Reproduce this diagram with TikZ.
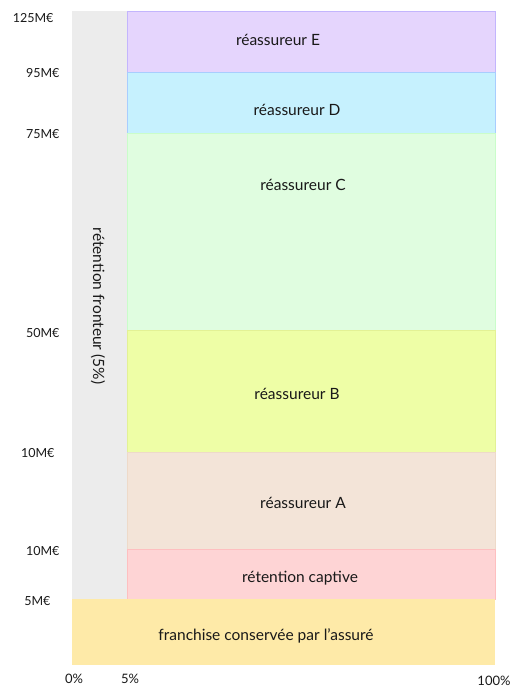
\documentclass[tikz,border=0pt]{standalone}
\usepackage{fontspec}
\setmainfont{Lato}
\begin{document}
\begin{tikzpicture}[x=1pt,y=-1pt,
  layer/.style={line width=0.5pt},
  lab/.style={font=\fontsize{15.5}{18}\selectfont, text=black!90},
  ylab/.style={font=\fontsize{12.5}{15}\selectfont, anchor=east, text=black!90},
  xlab/.style={font=\fontsize{13}{15}\selectfont, text=black!90}]
\useasboundingbox (0,0) rectangle (512,688);
\definecolor{cE}{HTML}{E5D5FD}
\definecolor{cD}{HTML}{C6F1FE}
\definecolor{cC}{HTML}{E0FDE0}
\definecolor{cB}{HTML}{EEFEA6}
\definecolor{cA}{HTML}{F3E4D8}
\definecolor{cP}{HTML}{FED4D5}
\definecolor{cF}{HTML}{FEEAA8}
\definecolor{cG}{HTML}{ECECEC}
% fronting column
\fill[cG] (72,11) rectangle (127,599);
% layers
\draw[layer, fill=cE, draw=cE!85!blue] (127,11) rectangle (495,72);
\draw[layer, fill=cD, draw=cD!85!blue] (127,72) rectangle (495,133);
\draw[layer, fill=cC, draw=cC!90!green] (127,133) rectangle (495,330);
\draw[layer, fill=cB, draw=cB!90!olive] (127,330) rectangle (495,452);
\draw[layer, fill=cA, draw=cA!90!brown] (127,452) rectangle (495,549);
\draw[layer, fill=cP, draw=cP!90!red] (127,549) rectangle (495,599);
\fill[cF] (72,599) rectangle (495,665);
% layer labels
\node[lab] (lE) at (278,40) {réassureur E};
\node[lab] (lD) at (297,110) {réassureur D};
\node[lab] (lC) at (303,185) {réassureur C};
\node[lab] (lB) at (297,394) {réassureur B};
\node[lab] (lA) at (303,503) {réassureur A};
\node[lab] (lP) at (300,578) {rétention captive};
\node[lab] (lF) at (266,636) {franchise conservée par l’assuré};
\node[lab, rotate=-90] (lG) at (98,306) {rétention fronteur (5\%)};
% y labels
\node[ylab] (y125) at (57,18) {125M€};
\node[ylab] (y95) at (63,73) {95M€};
\node[ylab] (y75) at (63,134) {75M€};
\node[ylab] (y50) at (63,333) {50M€};
\node[ylab] (y10a) at (58,453) {10M€};
\node[ylab] (y10b) at (63,551) {10M€};
\node[ylab] (y5) at (54,601) {5M€};
% x labels
\node[xlab] (x0) at (74,679) {0\%};
\node[xlab] (x5) at (130,679) {5\%};
\node[xlab] (x100) at (494,681) {100\%};
\end{tikzpicture}
\end{document}
